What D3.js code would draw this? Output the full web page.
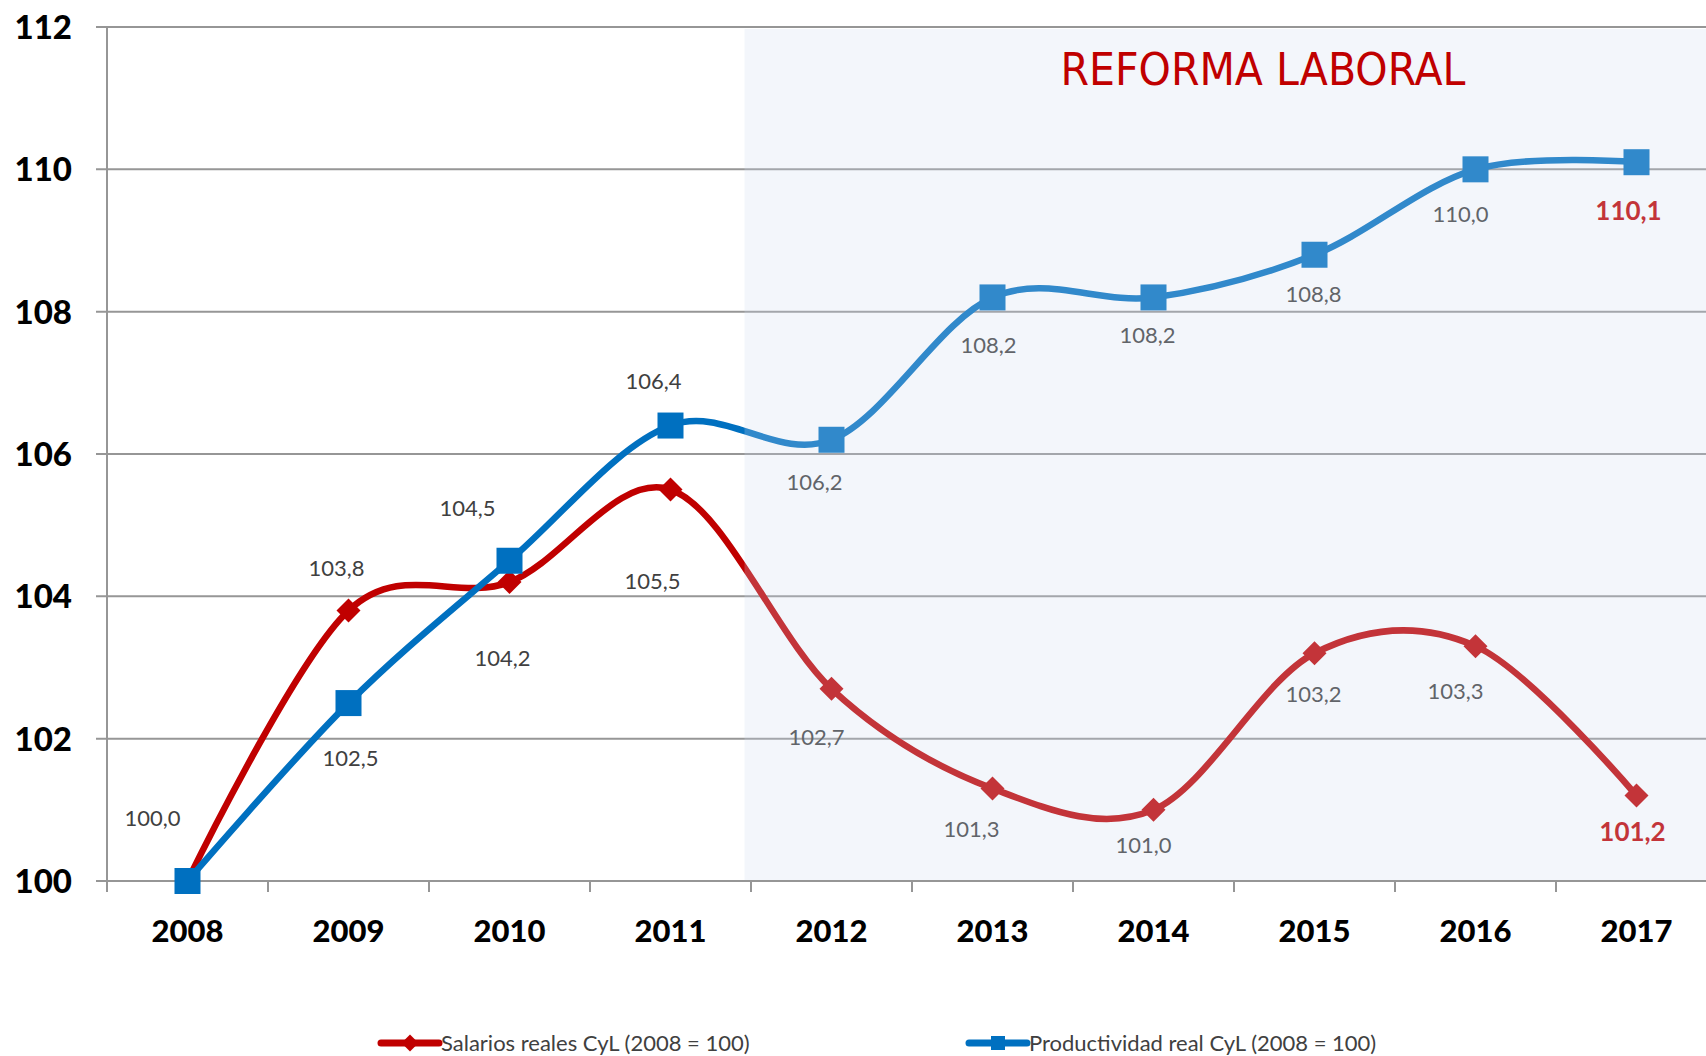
<!DOCTYPE html>
<html>
<head>
<meta charset="utf-8">
<script src="https://cdn.jsdelivr.net/npm/d3@7"></script>
<style>
  body { margin: 0; background: #fff; }
  svg { display: block; }
</style>
</head>
<body>
<svg id="chart" width="1706" height="1056"></svg>
<script>
// datos
var years = ['2008', '2009', '2010', '2011', '2012', '2013', '2014', '2015', '2016', '2017'];
var salarios = [100.0, 103.8, 104.2, 105.5, 102.7, 101.3, 101.0, 103.2, 103.3, 101.2];
var productividad = [100.0, 102.5, 104.5, 106.4, 106.2, 108.2, 108.2, 108.8, 110.0, 110.1];
var yTicks = [100, 102, 104, 106, 108, 110, 112];
var seriesNames = ['Salarios reales CyL (2008 = 100)', 'Productividad real CyL (2008 = 100)'];

// desplazamiento de las etiquetas respecto a cada punto [dx, dy]
var salLabelPos = [[-35, -63], [-12, -42], [-7, 76], [-18, 91], [-15, 48], [-21, 41], [-10, 35], [-1, 41], [-20, 45], [-4, 36]];
var prodLabelPos = [null, [2, 55], [-42, -53], [-17, -44], [-17, 42], [-4, 48], [-6, 38], [-1, 39], [-15, 45], [-8, 48]];

var red = '#c00000', blue = '#0070c0';
var svg = d3.select('#chart');

var x = d3.scaleBand().domain(years).range([107, 107 + 10 * 161]);
var y = d3.scaleLinear().domain([100, 112]).range([881, 27]);
var cx = function(d, i){ return x(years[i]) + x.bandwidth() / 2; };

// rejilla
svg.append('g').selectAll('line')
  .data(yTicks)
  .enter().append('line')
  .attr('x1', 96).attr('x2', 1706)
  .attr('y1', function(d){ return y(d); })
  .attr('y2', function(d){ return y(d); })
  .style('stroke', '#969696')
  .style('stroke-width', 2);

svg.append('line')
  .attr('x1', 107).attr('x2', 107)
  .attr('y1', y(112)).attr('y2', y(100) + 11)
  .style('stroke', '#969696').style('stroke-width', 2);

svg.append('g').selectAll('line')
  .data(d3.range(1, 11))
  .enter().append('line')
  .attr('x1', function(d){ return 107 + d * x.step(); })
  .attr('x2', function(d){ return 107 + d * x.step(); })
  .attr('y1', y(100)).attr('y2', y(100) + 11)
  .style('stroke', '#969696').style('stroke-width', 2);

// etiquetas de ejes
svg.append('g').selectAll('text')
  .data(yTicks)
  .enter().append('text')
  .attr('x', 72)
  .attr('y', function(d){ return y(d); })
  .attr('dy', '0.36em')
  .attr('text-anchor', 'end')
  .style('font-family', 'Lato, sans-serif')
  .style('font-weight', '900')
  .style('font-size', '33px')
  .style('fill', '#000')
  .text(function(d){ return d; });

svg.append('g').selectAll('text')
  .data(years)
  .enter().append('text')
  .attr('x', function(d){ return x(d) + x.bandwidth() / 2; })
  .attr('y', 942)
  .attr('text-anchor', 'middle')
  .style('font-family', 'Lato, sans-serif')
  .style('font-weight', '900')
  .style('font-size', '31px')
  .style('fill', '#000')
  .text(function(d){ return d; });

// lineas
var line = d3.line()
  .x(cx)
  .y(function(d){ return y(d); })
  .curve(d3.curveCardinal.tension(0));

svg.append('path')
  .datum(salarios)
  .attr('d', line)
  .style('fill', 'none')
  .style('stroke', red)
  .style('stroke-width', 6.5);

svg.append('path')
  .datum(productividad)
  .attr('d', line)
  .style('fill', 'none')
  .style('stroke', blue)
  .style('stroke-width', 6.5);

svg.append('g').selectAll('rect')
  .data(salarios)
  .enter().append('rect')
  .attr('x', -8.5).attr('y', -8.5)
  .attr('width', 17).attr('height', 17)
  .attr('transform', function(d, i){ return 'translate(' + cx(d, i) + ',' + y(d) + ') rotate(45)'; })
  .style('fill', red);

svg.append('g').selectAll('rect')
  .data(productividad)
  .enter().append('rect')
  .attr('x', function(d, i){ return cx(d, i) - 13; })
  .attr('y', function(d){ return y(d) - 13; })
  .attr('width', 26).attr('height', 26)
  .style('fill', blue);

// etiquetas de datos
var fmt = function(v){ return v.toFixed(1).replace('.', ','); };
function labels(values, pos){
  var last = values.length - 1;
  var items = values.map(function(v, i){ return { v: v, i: i, p: pos[i] }; })
    .filter(function(d){ return d.p !== null; });
  svg.append('g').selectAll('text')
    .data(items)
    .enter().append('text')
    .attr('x', function(d){ return cx(d.v, d.i) + d.p[0]; })
    .attr('y', function(d){ return y(d.v) + d.p[1]; })
    .attr('dy', '0.36em')
    .attr('text-anchor', 'middle')
    .style('font-family', 'Lato, sans-serif')
    .style('font-size', function(d){ return d.i === last ? '26px' : '22px'; })
    .style('font-weight', function(d){ return d.i === last ? 'bold' : 'normal'; })
    .style('fill', function(d){ return d.i === last ? red : '#404040'; })
    .text(function(d){ return fmt(d.v); });
}
labels(salarios, salLabelPos);
labels(productividad, prodLabelPos);

// zona de la reforma, sombreado encima
svg.append('rect')
  .attr('x', x('2011') + x.bandwidth() / 2 + 74)
  .attr('y', y(112) + 2)
  .attr('width', 1706)
  .attr('height', y(100) - y(112) - 3)
  .style('fill', 'rgb(204,217,238)')
  .style('opacity', 0.24);

svg.append('text')
  .attr('x', 1263)
  .attr('y', 85)
  .attr('text-anchor', 'middle')
  .attr('textLength', 405)
  .attr('lengthAdjust', 'spacingAndGlyphs')
  .style('font-family', '"Comic Sans MS", "DejaVu Sans", sans-serif')
  .style('font-size', '44px')
  .style('fill', red)
  .text('REFORMA LABORAL');

// leyenda
var legend = svg.append('g');
var lx = [381, 969];
seriesNames.forEach(function(name, i){
  var c = i === 0 ? red : blue;
  legend.append('line')
    .attr('x1', lx[i]).attr('x2', lx[i] + 58)
    .attr('y1', 1043).attr('y2', 1043)
    .style('stroke', c).style('stroke-width', 7)
    .style('stroke-linecap', 'round');
  if (i === 0) {
    legend.append('rect')
      .attr('x', -6).attr('y', -6).attr('width', 12).attr('height', 12)
      .attr('transform', 'translate(' + (lx[i] + 29) + ',1043) rotate(45)')
      .style('fill', c);
  } else {
    legend.append('rect')
      .attr('x', lx[i] + 22).attr('y', 1036).attr('width', 14).attr('height', 14)
      .style('fill', c);
  }
  legend.append('text')
    .attr('x', lx[i] + 60).attr('y', 1043)
    .attr('dy', '0.36em')
    .style('font-family', 'Lato, sans-serif')
    .style('font-size', '22px')
    .style('fill', '#404040')
    .text(name);
});
</script>
</body>
</html>
